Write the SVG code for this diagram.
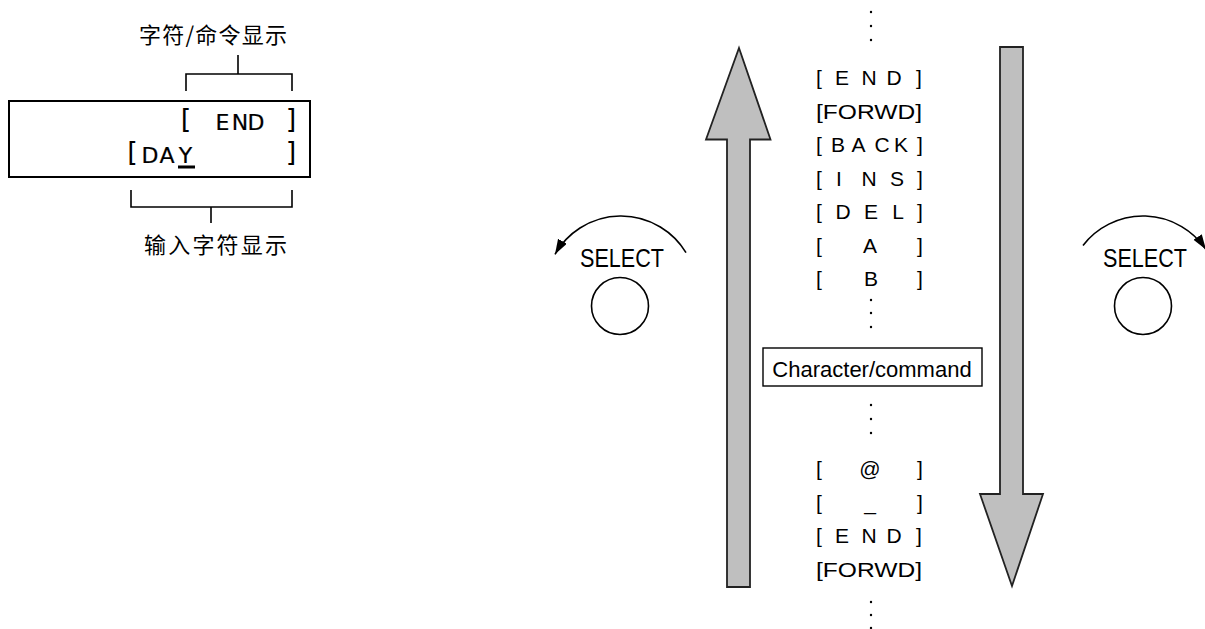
<svg xmlns="http://www.w3.org/2000/svg" width="1205" height="629" viewBox="0 0 1205 629">
<style>
.cjk{font-family:"Noto Sans CJK SC","Noto Sans",sans-serif;font-size:22px;fill:#000}
.lcd{font-family:"DejaVu Sans",sans-serif;font-size:22px;fill:#000;stroke:#000;stroke-width:0.2;text-anchor:middle}
.lcdb{font-family:"DejaVu Sans",sans-serif;font-size:27px;fill:#000;text-anchor:middle}
.item{font-family:"Liberation Sans",Arial,sans-serif;font-size:21px;fill:#000;text-anchor:middle}
.sel{font-family:"Liberation Sans",Arial,sans-serif;font-size:26px;fill:#000}
.cmd{font-family:"Liberation Sans",Arial,sans-serif;font-size:22px;fill:#000;text-anchor:middle}
.ln{fill:none;stroke:#000;stroke-width:1.6}
.big{fill:#bfbfbf;stroke:#222;stroke-width:1.8;stroke-linejoin:miter}
.dot{fill:#000}
.knob{fill:#fff;stroke:#000;stroke-width:1.6}
</style>
<defs>
<marker id="ah" markerUnits="userSpaceOnUse" markerWidth="16" markerHeight="11" refX="15" refY="5" orient="auto">
<path d="M0,0 L15,5 L0,10 z" fill="#000"/>
</marker>
</defs>

<g id="lcd-panel">
<rect x="9" y="101" width="301" height="76" fill="#fff" stroke="#000" stroke-width="2"/>
<text class="lcdb" x="186" y="128">[</text>
<text class="lcd" x="222.5 240 256" y="130">END</text>
<text class="lcdb" x="291" y="128">]</text>
<text class="lcdb" x="132.5" y="161">[</text>
<text class="lcd" x="150 167 185.5" y="163">DAY</text>
<text class="lcdb" x="291" y="161">]</text>
<rect x="178" y="165.5" width="17" height="3" fill="#000"/>
</g>

<g id="label-char-cmd">
<path class="ln" d="M238 55 V74 M186 91 V74 H292 V91"/>
<text class="cjk" x="139" y="43" textLength="148" lengthAdjust="spacing">字符/命令显示</text>
</g>

<g id="label-input">
<path class="ln" d="M131 190 V207 H292 V190 M211 207 V223"/>
<text class="cjk" x="144" y="253" textLength="143" lengthAdjust="spacing">输入字符显示</text>
</g>

<g id="list">
<circle class="dot" cx="871" cy="12" r="1.2"/>
<circle class="dot" cx="871" cy="26" r="1.2"/>
<circle class="dot" cx="871" cy="40" r="1.2"/>
<text class="item" x="819 842 869 894 919" y="85">[END]</text>
<text class="item" x="816" y="118.5" style="text-anchor:start" textLength="106" lengthAdjust="spacingAndGlyphs">[FORWD]</text>
<text class="item" x="819 838 858.5 882 901 920" y="152">[BACK]</text>
<text class="item" x="819 839 869 897 920" y="185.5">[INS]</text>
<text class="item" x="819 843 871 898 920" y="219">[DEL]</text>
<text class="item" x="819 870 920" y="252.5">[A]</text>
<text class="item" x="819 871 920" y="286">[B]</text>
<circle class="dot" cx="871" cy="300" r="1.2"/>
<circle class="dot" cx="871" cy="313" r="1.2"/>
<circle class="dot" cx="871" cy="327" r="1.2"/>
<circle class="dot" cx="871" cy="405" r="1.2"/>
<circle class="dot" cx="871" cy="419" r="1.2"/>
<circle class="dot" cx="871" cy="433" r="1.2"/>
<text class="item" x="819 870 920" y="476">[@]</text>
<text class="item" x="819 870 920" y="510">[_]</text>
<text class="item" x="819 842 869 894 919" y="543">[END]</text>
<text class="item" x="816" y="577" style="text-anchor:start" textLength="106" lengthAdjust="spacingAndGlyphs">[FORWD]</text>
<circle class="dot" cx="871" cy="602" r="1.2"/>
<circle class="dot" cx="871" cy="615" r="1.2"/>
<circle class="dot" cx="871" cy="628" r="1.2"/>
</g>

<g id="char-cmd-box">
<rect x="763" y="348" width="219" height="38" fill="#fff" stroke="#000" stroke-width="1.4"/>
<text class="cmd" x="872" y="377">Character/command</text>
</g>

<g id="select-left">
<text class="sel" x="580" y="266.5" textLength="84" lengthAdjust="spacingAndGlyphs">SELECT</text>
<circle class="knob" cx="620" cy="306" r="28.5"/>
</g>

<g id="select-right">
<text class="sel" x="1103" y="266.5" textLength="84" lengthAdjust="spacingAndGlyphs">SELECT</text>
<circle class="knob" cx="1143" cy="306" r="28.5"/>
</g>

<g id="connectors">
<polygon class="big" points="739,48 770.5,139.5 750,139.5 750,587 727,587 727,139.5 706,139.5"/>
<polygon class="big" points="1000,47 1023,47 1023,494 1043,494 1012,586 980,494 1000,494"/>
<path class="ln" d="M686 252.6 A76 76 0 0 0 555 254.3" marker-end="url(#ah)"/>
<path class="ln" d="M1083 245.4 A76 76 0 0 1 1206 249.5" marker-end="url(#ah)"/>
</g>
</svg>
